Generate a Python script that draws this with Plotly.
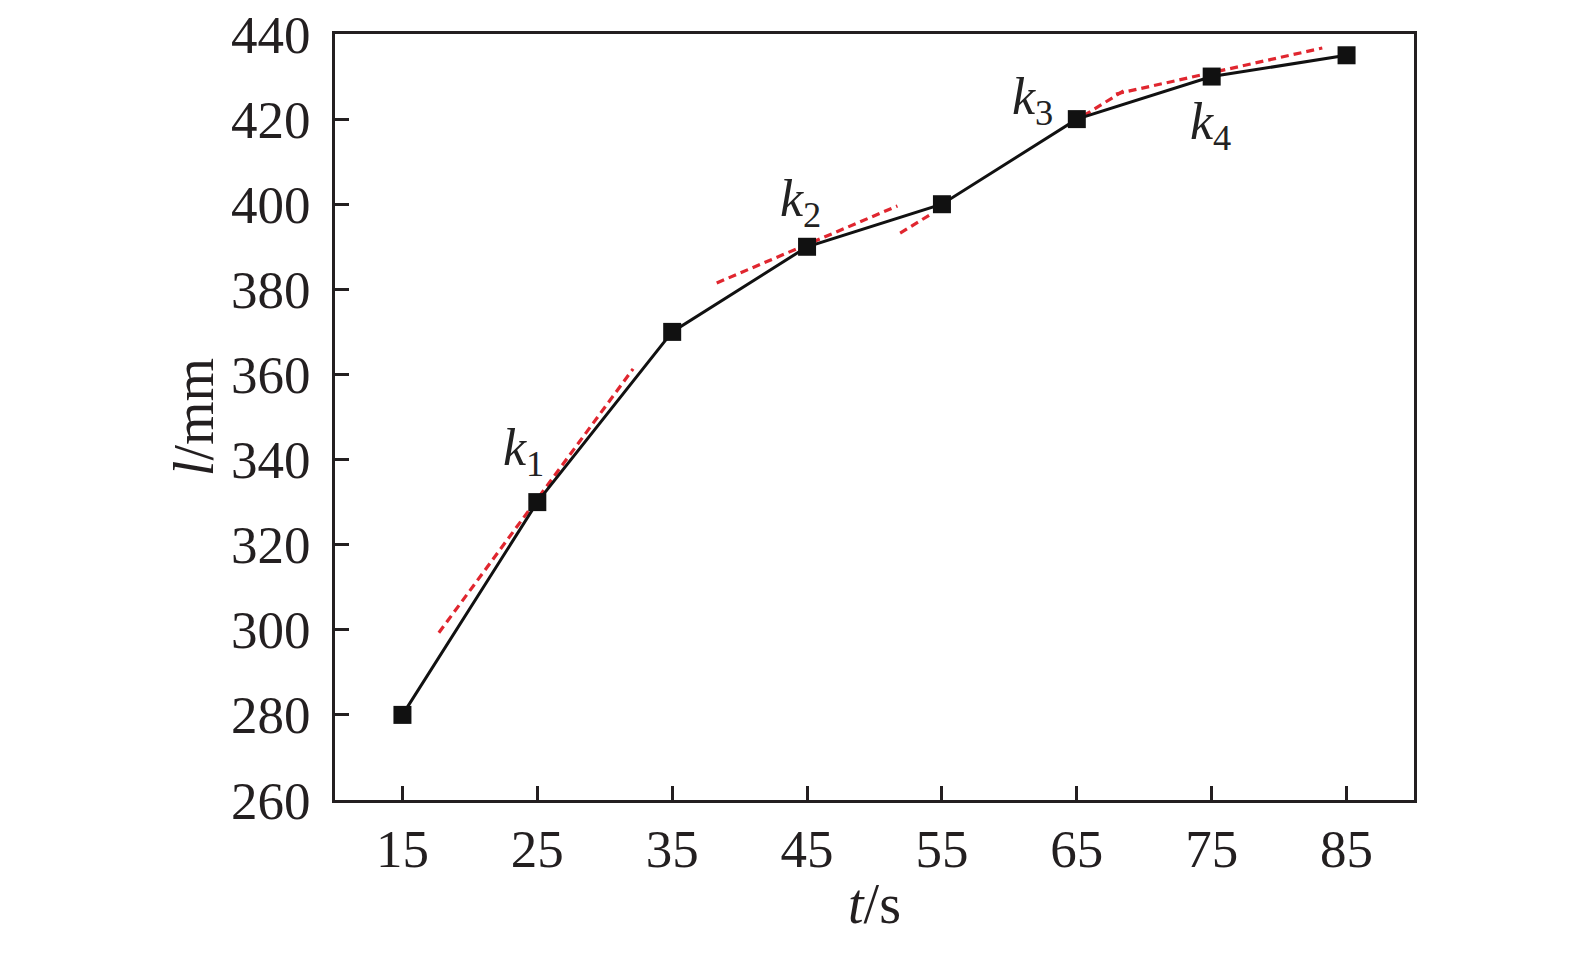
import plotly.graph_objects as go

t_s = [15, 25, 35, 45, 55, 65, 75, 85]
l_mm = [280, 330, 370, 390, 400, 420, 430, 435]

# tangent (dashed) segments: start/end points
tan_x = [[17.7, 32.1], [38.3, 51.7], [51.9, 54.2], [65.5, 68.6], [67.9, 83.2]]
tan_y = [[299.3, 361.3], [381.5, 399.6], [393.2, 397.7], [420.8, 426.9], [425.9, 436.7]]

label_text = ["<i>k</i><sub>1</sub>", "<i>k</i><sub>2</sub>", "<i>k</i><sub>3</sub>", "<i>k</i><sub>4</sub>"]
label_x = [24.0, 44.5, 61.7, 74.9]
label_y = [342, 400.5, 424.3, 418.4]

xticks = [15, 25, 35, 45, 55, 65, 75, 85]
yticks = [260, 280, 300, 320, 340, 360, 380, 400, 420, 440]

FONT = "Liberation Serif, Times New Roman, serif"
RED = "#e0262f"
FS = 53

fig = go.Figure()
for xs, ys in zip(tan_x, tan_y):
    fig.add_trace(go.Scatter(x=xs, y=ys, mode="lines",
                             line=dict(color=RED, width=3.2, dash="8px,5px"),
                             showlegend=False, hoverinfo="skip"))

fig.add_trace(go.Scatter(x=t_s, y=l_mm, mode="lines+markers",
                         line=dict(color="#111111", width=3),
                         marker=dict(symbol="square", size=18, color="#111111"),
                         showlegend=False))

for txt, x, y in zip(label_text, label_x, label_y):
    fig.add_annotation(x=x, y=y, text=txt, showarrow=False,
                       font=dict(family=FONT, size=52, color="#222222"))

axis_common = dict(showgrid=False, zeroline=False, showline=True, linecolor="#231f20",
                   linewidth=3, mirror=True, ticks="inside", ticklen=14, tickwidth=2.5,
                   tickcolor="#231f20", automargin=False, ticklabeloverflow="allow",
                   tickfont=dict(family=FONT, size=FS, color="#231f20"))

fig.update_xaxes(range=[10, 90], tickvals=xticks,
                 title=dict(text="<i>t</i>/s", font=dict(family=FONT, size=56, color="#231f20"), standoff=8),
                 **axis_common)
fig.update_yaxes(range=[260, 440], tickvals=yticks, ticklabelstandoff=11,
                 title=dict(text="<i>l</i>/mm", font=dict(family=FONT, size=56, color="#231f20"), standoff=0),
                 **axis_common)

fig.update_layout(width=1575, height=953, plot_bgcolor="white", paper_bgcolor="white",
                  font=dict(family=FONT),
                  margin=dict(l=327, r=169, t=26, b=161))

fig.write_html("out.html")
